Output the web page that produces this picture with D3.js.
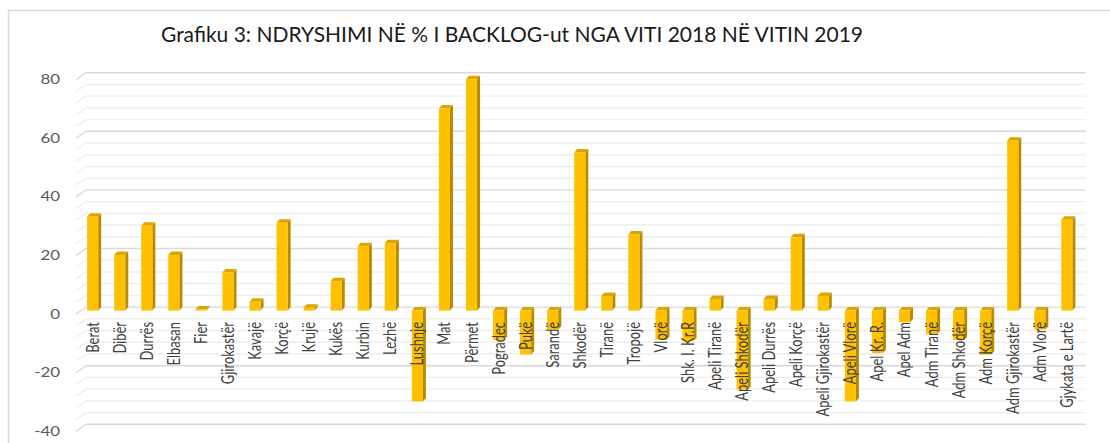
<!DOCTYPE html>
<html>
<meta charset="utf-8">
<style>
body { margin: 0; background: #fff; }
svg { display: block; }
</style>
<body>
<script src="https://d3js.org/d3.v7.min.js"></script>
<script>
// chart data
var categories = ["Berat", "Dibër", "Durrës", "Elbasan", "Fier", "Gjirokastër", "Kavajë", "Korçë",
  "Krujë", "Kukës", "Kurbin", "Lezhë", "Lushnje", "Mat", "Përmet", "Pogradec", "Pukë", "Sarandë",
  "Shkodër", "Tiranë", "Tropojë", "Vlorë", "Shk. I. Kr.R", "Apeli Tiranë", "Apeli Shkodër",
  "Apeli Durrës", "Apeli Korçë", "Apeli Gjirokastër", "Apeli Vlorë", "Apel Kr. R.", "Apel Adm",
  "Adm Tiranë", "Adm Shkodër", "Adm Korçë", "Adm Gjirokastër", "Adm Vlorë", "Gjykata e Lartë"];
var values = [32, 19, 29, 19, 0.4, 13, 3, 30, 1, 10, 22, 23, -31, 69, 79, -10, -15, -6.5,
  54, 5, 26, -10, -10.5, 4, -27, 4, 25, 5, -31, -14.5, -4, -8, -10, -15, 58, -6.5, 31];
var majorTicks = [-40, -20, 0, 20, 40, 60, 80];
var gridTicks = d3.range(-40, 81, 4);
var title = "Grafiku 3: NDRYSHIMI NË % I BACKLOG-ut NGA VITI 2018 NË VITIN 2019";

var width = 1110, height = 443;
var depthX = 3, depthY = 3.5;   // bar 3d offset
var wallX = 10, wallY = 7;      // gridline perspective

var svg = d3.select("body").append("svg")
    .attr("width", width)
    .attr("height", height);

// chart border
svg.append("path")
    .attr("d", "M8.5," + height + "V10.5H" + width)
    .style("fill", "none")
    .style("stroke", "#d9d9d9")
    .style("stroke-width", "1.5px");

var x = d3.scaleBand()
    .domain(categories)
    .range([79, 1080.5])
    .paddingInner(0.59)
    .paddingOuter(0.3);

// back wall scale (gridlines)
var y = d3.scaleLinear()
    .domain([-40, 80])
    .range([424.3, 72.7]);

// gridlines
svg.selectAll(".grid")
    .data(gridTicks)
    .enter().append("path")
    .attr("class", "grid")
    .attr("d", function(d) {
      var yy = y(d);
      return "M" + (86 - wallX) + "," + (yy + wallY) + "L86," + yy + "H1086";
    })
    .style("fill", "none")
    .style("stroke", function(d) { return d % 20 == 0 ? "#d9d9d9" : "#eeeeee"; })
    .style("stroke-width", "1.4px");

// y labels
svg.selectAll(".ylab")
    .data(majorTicks)
    .enter().append("text")
    .attr("class", "ylab")
    .attr("transform", function(d) { return "translate(60," + (y(d) + wallY) + ") scale(1.3,1)"; })
    .attr("text-anchor", "end")
    .attr("dy", "0.35em")
    .style("font-family", "Lato, 'Open Sans', sans-serif")
    .style("font-size", "13px")
    .style("fill", "#595959")
    .text(function(d) { return d; });

// bars
var bw = x.bandwidth();
var bars = svg.selectAll(".bar")
    .data(categories.map(function(c, i) { return { name: c, value: values[i] }; }))
    .enter().append("g")
    .attr("class", "bar");

function yb(v) { return y(v) + depthY; }

bars.append("path")  // side
    .attr("d", function(d) {
      var x1 = x(d.name) + bw, t = Math.min(yb(d.value), yb(0)), b = Math.max(yb(d.value), yb(0));
      return "M" + x1 + "," + t + "L" + (x1 + depthX) + "," + (t - depthY) +
        "L" + (x1 + depthX) + "," + (b - depthY) + "L" + x1 + "," + b + "Z";
    })
    .style("fill", "#b88a00");

bars.append("path")  // top
    .attr("d", function(d) {
      var x0 = x(d.name), t = Math.min(yb(d.value), yb(0));
      return "M" + x0 + "," + t + "L" + (x0 + depthX) + "," + (t - depthY) +
        "H" + (x0 + bw + depthX) + "L" + (x0 + bw) + "," + t + "Z";
    })
    .style("fill", "#dca600");

bars.append("rect")  // front
    .attr("x", function(d) { return x(d.name); })
    .attr("y", function(d) { return Math.min(yb(d.value), yb(0)); })
    .attr("width", bw)
    .attr("height", function(d) { return Math.abs(yb(d.value) - yb(0)); })
    .style("fill", "#ffc000");

// category labels
svg.selectAll(".xlab")
    .data(categories)
    .enter().append("text")
    .attr("class", "xlab")
    .attr("transform", function(d) {
      return "translate(" + (x(d) + bw / 2 + 6) + ",322) rotate(-90) scale(0.74,1)";
    })
    .attr("text-anchor", "end")
    .style("font-family", "Lato, 'Open Sans', sans-serif")
    .style("font-size", "17.5px")
    .style("fill", "#404040")
    .text(function(d) { return d; });

// title
svg.append("text")
    .attr("x", 512)
    .attr("y", 42)
    .attr("text-anchor", "middle")
    .style("font-family", "Lato, 'Open Sans', sans-serif")
    .style("font-size", "21px")
    .style("fill", "#1a1a1a")
    .text(title);
</script>
</body>
</html>
